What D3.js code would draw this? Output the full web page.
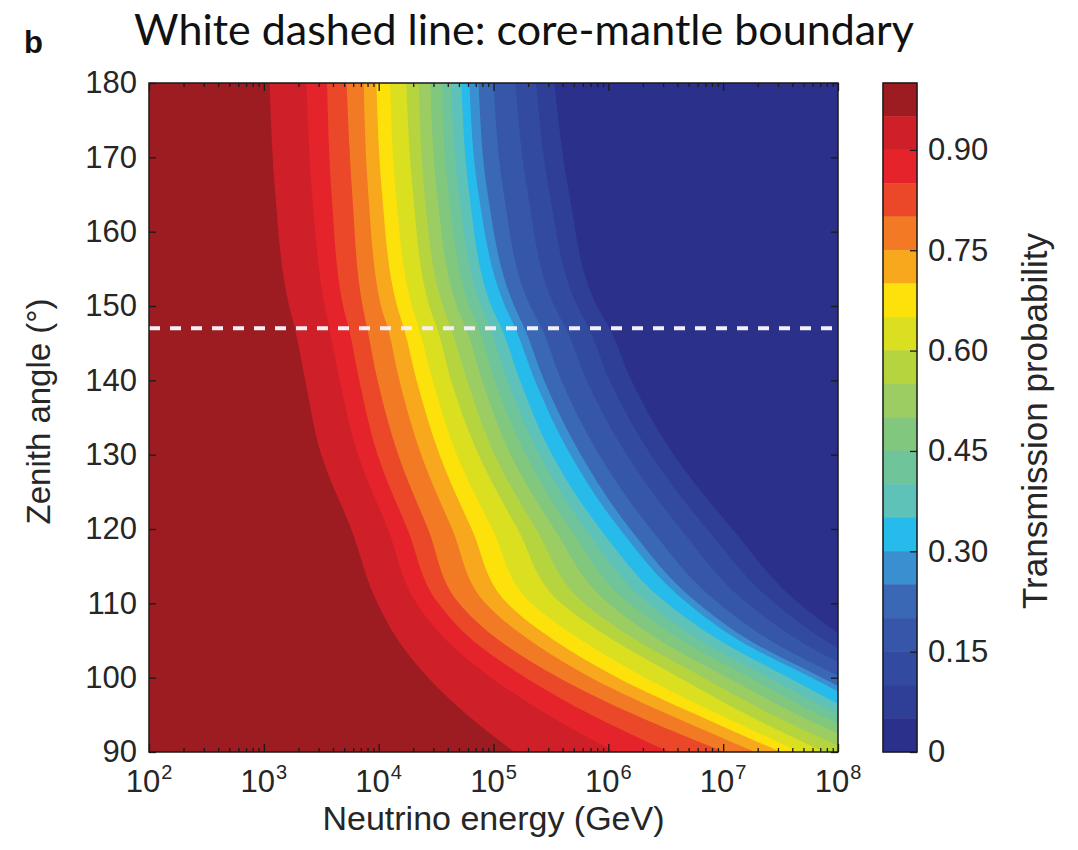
<!DOCTYPE html>
<html>
<head>
<meta charset="utf-8">
<script src="https://cdn.jsdelivr.net/npm/d3@7"></script>
<style>
  html, body { margin: 0; padding: 0; background: #ffffff; }
  svg { display: block; }
</style>
</head>
<body>
<svg id="chart" width="1078" height="850"></svg>
<script>
// Contour levels of the transmission probability (lower edge of each filled band)
const levels = [0.95, 0.90, 0.85, 0.80, 0.75, 0.70, 0.65, 0.60, 0.55, 0.50,
                0.45, 0.40, 0.35, 0.30, 0.25, 0.20, 0.15, 0.10, 0.05];

// Fill colour of each band, from 0.95–1.00 down to 0–0.05
const bandColors = ["#9c1c21", "#cf1f28", "#e4232a", "#eb4729", "#f27a24",
                    "#f8a81c", "#fde10b", "#dadf1f", "#b6d43e", "#9bcd62",
                    "#82c77e", "#6fc49a", "#5ec2b8", "#27bbec", "#3a8fd0",
                    "#3a68b5", "#3657a9", "#324aa0", "#2f3f97", "#2b318a"];

// Zenith angles (degrees) at which the isolines are sampled
const zenithRows = [180, 165, 150, 147, 140, 130, 120, 110, 105, 100, 95, 90];

// log10(E / GeV) of each isoline, one row per level, one value per zenith angle
const isoLogE = [
  [3.05, 3.10, 3.22, 3.27, 3.36, 3.50, 3.76, 3.99, 4.17, 4.43, 4.77, 5.18],  // 0.95
  [3.37, 3.42, 3.53, 3.57, 3.66, 3.82, 4.08, 4.33, 4.59, 4.98, 5.47, 6.06],  // 0.90
  [3.55, 3.59, 3.69, 3.74, 3.83, 3.99, 4.25, 4.52, 4.82, 5.28, 5.85, 6.53],  // 0.85
  [3.72, 3.77, 3.86, 3.90, 3.99, 4.17, 4.43, 4.70, 5.05, 5.57, 6.23, 7.01],  // 0.80
  [3.87, 3.91, 4.02, 4.08, 4.18, 4.37, 4.64, 4.93, 5.32, 5.85, 6.53, 7.28],  // 0.75
  [3.98, 4.03, 4.16, 4.22, 4.33, 4.53, 4.81, 5.12, 5.53, 6.08, 6.77, 7.50],  // 0.70
  [4.10, 4.15, 4.29, 4.35, 4.47, 4.68, 4.99, 5.33, 5.77, 6.32, 6.97, 7.67],  // 0.65
  [4.24, 4.30, 4.44, 4.51, 4.63, 4.87, 5.21, 5.59, 6.05, 6.62, 7.21, 7.88],  // 0.60
  [4.35, 4.40, 4.56, 4.63, 4.77, 5.01, 5.37, 5.79, 6.25, 6.83, 7.43, 8.12],  // 0.55
  [4.45, 4.51, 4.68, 4.76, 4.90, 5.15, 5.53, 6.00, 6.45, 7.04, 7.65, 8.36],  // 0.50
  [4.55, 4.61, 4.79, 4.87, 5.01, 5.28, 5.67, 6.18, 6.64, 7.23, 7.84, 8.57],  // 0.45
  [4.63, 4.70, 4.89, 4.97, 5.12, 5.40, 5.80, 6.35, 6.80, 7.40, 8.02, 8.77],  // 0.40
  [4.72, 4.79, 4.98, 5.07, 5.23, 5.51, 5.93, 6.51, 6.97, 7.57, 8.20, 8.97],  // 0.35
  [4.79, 4.87, 5.10, 5.19, 5.36, 5.67, 6.10, 6.69, 7.14, 7.77, 8.41, 9.18],  // 0.30
  [4.87, 4.95, 5.18, 5.27, 5.44, 5.76, 6.19, 6.78, 7.23, 7.86, 8.51, 9.30],  // 0.25
  [5.00, 5.09, 5.32, 5.42, 5.59, 5.92, 6.37, 6.96, 7.41, 8.03, 8.70, 9.51],  // 0.20
  [5.19, 5.30, 5.53, 5.63, 5.81, 6.16, 6.63, 7.21, 7.66, 8.27, 8.97, 9.82],  // 0.15
  [5.37, 5.49, 5.73, 5.83, 6.01, 6.37, 6.86, 7.45, 7.89, 8.50, 9.22, 10.10], // 0.10
  [5.53, 5.66, 5.90, 6.01, 6.20, 6.57, 7.08, 7.66, 8.10, 8.70, 9.44, 10.36]  // 0.05
];

const energyDomain = [1e2, 1e8];
const zenithDomain = [90, 180];
const xTickExponents = [2, 3, 4, 5, 6, 7, 8];
const yTicks = [90, 100, 110, 120, 130, 140, 150, 160, 170, 180];
const colorbarTicks = [0, 0.15, 0.30, 0.45, 0.60, 0.75, 0.90];
const coreMantleZenith = 147;

const titleText = "White dashed line: core-mantle boundary";
const panelLetter = "b";
const xLabel = "Neutrino energy (GeV)";
const yLabel = "Zenith angle (\u00b0)";
const cbLabel = "Transmission probability";

// ---------------------------------------------------------------
const svg = d3.select("#chart");
const plot = { left: 149, right: 838, top: 83, bottom: 752 };
const cbar = { left: 883, right: 917, top: 83, bottom: 752 };
const axisFont = "'Liberation Sans', Arial, Helvetica, sans-serif";
const textColor = "#262626";

const x = d3.scaleLog().domain(energyDomain).range([plot.left, plot.right]);
const y = d3.scaleLinear().domain(zenithDomain).range([plot.bottom, plot.top]);

svg.append("defs").append("clipPath").attr("id", "plot-clip")
  .append("rect")
  .attr("x", plot.left).attr("y", plot.top)
  .attr("width", plot.right - plot.left).attr("height", plot.bottom - plot.top);

const field = svg.append("g").attr("clip-path", "url(#plot-clip)");

// lowest band fills the whole panel, higher bands are painted on top
field.append("rect")
  .attr("x", plot.left).attr("y", plot.top)
  .attr("width", plot.right - plot.left).attr("height", plot.bottom - plot.top)
  .attr("fill", bandColors[bandColors.length - 1]);

const bandArea = d3.area()
  .curve(d3.curveMonotoneY)
  .y(d => y(d.zenith))
  .x0(plot.left - 4)
  .x1(d => x(Math.pow(10, d.logE)));

for (let i = levels.length - 1; i >= 0; i--) {
  const pts = zenithRows.map((z, j) => ({ zenith: z, logE: isoLogE[i][j] }));
  field.append("path")
    .datum(pts)
    .attr("d", bandArea)
    .attr("fill", bandColors[i]);
}

// core-mantle boundary
field.append("line")
  .attr("x1", plot.left).attr("x2", plot.right)
  .attr("y1", y(coreMantleZenith)).attr("y2", y(coreMantleZenith))
  .attr("stroke", "#f4eff7")
  .attr("stroke-width", 4)
  .attr("stroke-dasharray", "11 10");

// ---- axes (ticks point inward, MATLAB style) ----
function styleAxis(sel) {
  sel.select(".domain").remove();
  sel.selectAll(".tick line").attr("stroke", "#1a1a1a").attr("stroke-width", 1.3);
  sel.selectAll(".tick text")
    .attr("font-family", axisFont).attr("font-size", 31).attr("fill", textColor);
}

svg.append("g")
  .attr("transform", `translate(${plot.left},0)`)
  .call(d3.axisLeft(y).tickValues(yTicks).tickSize(-7).tickPadding(12))
  .call(styleAxis);

svg.append("g")
  .attr("transform", `translate(${plot.right},0)`)
  .call(d3.axisRight(y).tickValues(yTicks).tickSize(-7).tickFormat(""))
  .call(styleAxis);

const decades = xTickExponents.map(e => Math.pow(10, e));
const minorTicks = x.ticks().filter(v => !decades.some(d => Math.abs(v - d) / d < 1e-9));

[["bottom", plot.bottom, d3.axisBottom], ["top", plot.top, d3.axisTop]].forEach(([side, yPos, axisFn]) => {
  svg.append("g")
    .attr("transform", `translate(0,${yPos})`)
    .call(axisFn(x).tickValues(decades).tickSize(-8).tickFormat(""))
    .call(styleAxis);
  svg.append("g")
    .attr("transform", `translate(0,${yPos})`)
    .call(axisFn(x).tickValues(minorTicks).tickSize(-4).tickFormat(""))
    .call(styleAxis);
});

// decade labels as 10 with a raised exponent
const xLabels = svg.append("g")
  .attr("font-family", axisFont).attr("fill", textColor);
xTickExponents.forEach(e => {
  const t = xLabels.append("text")
    .attr("x", x(Math.pow(10, e)))
    .attr("y", plot.bottom + 40)
    .attr("text-anchor", "middle")
    .attr("font-size", 31);
  t.append("tspan").text("10");
  t.append("tspan").attr("font-size", 20).attr("dy", -13).attr("dx", 1).text(String(e));
});

// panel frame
svg.append("rect")
  .attr("x", plot.left).attr("y", plot.top)
  .attr("width", plot.right - plot.left).attr("height", plot.bottom - plot.top)
  .attr("fill", "none").attr("stroke", "#1a1a1a").attr("stroke-width", 1.5);

// ---- colour bar ----
const c = d3.scaleLinear().domain([0, 1]).range([cbar.bottom, cbar.top]);
const cbBands = bandColors.map((col, i) => ({
  lo: i < levels.length ? levels[i] : 0,
  hi: i === 0 ? 1 : levels[i - 1],
  color: col
}));
svg.append("g").selectAll("rect").data(cbBands).join("rect")
  .attr("x", cbar.left)
  .attr("width", cbar.right - cbar.left)
  .attr("y", d => c(d.hi))
  .attr("height", d => c(d.lo) - c(d.hi))
  .attr("fill", d => d.color)
  .attr("stroke", d => d.color).attr("stroke-width", 0.5);

svg.append("g")
  .attr("transform", `translate(${cbar.right},0)`)
  .call(d3.axisRight(c).tickValues(colorbarTicks).tickSize(-7).tickPadding(11)
    .tickFormat(v => v === 0 ? "0" : d3.format(".2f")(v)))
  .call(styleAxis);

svg.append("rect")
  .attr("x", cbar.left).attr("y", cbar.top)
  .attr("width", cbar.right - cbar.left).attr("height", cbar.bottom - cbar.top)
  .attr("fill", "none").attr("stroke", "#1a1a1a").attr("stroke-width", 1.5);

// ---- labels ----
svg.append("text")
  .attr("x", (plot.left + plot.right) / 2).attr("y", 830)
  .attr("text-anchor", "middle")
  .attr("font-family", axisFont).attr("font-size", 34).attr("fill", textColor)
  .text(xLabel);

svg.append("text")
  .attr("transform", `translate(50,${(293 + 530) / 2}) rotate(-90)`)
  .attr("text-anchor", "middle")
  .attr("font-family", axisFont).attr("font-size", 33).attr("fill", textColor)
  .text(yLabel);

svg.append("text")
  .attr("transform", `translate(1047,421) rotate(-90)`)
  .attr("text-anchor", "middle")
  .attr("font-family", axisFont).attr("font-size", 35).attr("fill", textColor)
  .text(cbLabel);

svg.append("text")
  .attr("x", 524).attr("y", 45)
  .attr("text-anchor", "middle")
  .attr("font-family", "Lato, 'Open Sans', sans-serif").attr("font-size", 43)
  .attr("fill", "#111")
  .text(titleText);

svg.append("text")
  .attr("x", 24).attr("y", 53)
  .attr("font-family", axisFont).attr("font-weight", "bold").attr("font-size", 31)
  .attr("fill", "#111")
  .text(panelLetter);
</script>
</body>
</html>
